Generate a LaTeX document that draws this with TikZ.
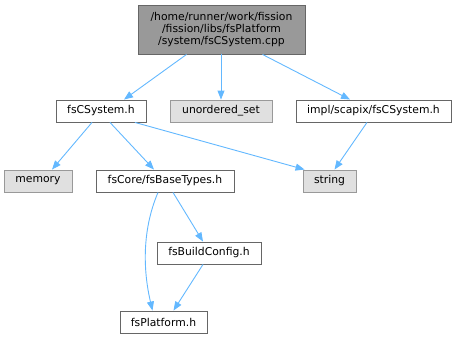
\documentclass[tikz,border=0pt]{standalone}
\usepackage{fontspec}
\setmainfont{DejaVu Sans}
\usetikzlibrary{arrows.meta,calc}
\definecolor{edgeblue}{HTML}{63B8FF}
\definecolor{boxgray}{HTML}{E0E0E0}
\definecolor{rootgray}{HTML}{999999}
\definecolor{bordark}{HTML}{666666}
\definecolor{borlight}{HTML}{999999}
\tikzset{
  filebox/.style={draw=bordark, fill=white, line width=0.9pt, minimum height=22pt, inner sep=0pt, font=\fontsize{10.8}{12.3}\selectfont},
  sysbox/.style={draw=borlight, fill=boxgray, line width=0.9pt, minimum height=22pt, inner sep=0pt, font=\fontsize{10.8}{12.3}\selectfont},
  rootbox/.style={draw=bordark, fill=rootgray, line width=0.9pt, minimum height=49pt, inner sep=0pt, align=center, font=\fontsize{10.8}{12.3}\selectfont},
  dep/.style={draw=edgeblue, line width=0.9pt, -{Triangle[length=9pt,width=7pt]}}
}
\begin{document}
\begin{tikzpicture}[x=1pt,y=-1pt]
\useasboundingbox (0,0) rectangle (456,340);
\node[rootbox, minimum width=167pt] (root) at (221.5,29.5) {/home/runner/work/fission\\/fission/libs/fsPlatform\\/system/fsCSystem.cpp};
\node[filebox, minimum width=90pt] (cs) at (101,111) {fsCSystem.h};
\node[sysbox, minimum width=102pt] (us) at (221,111) {unordered\_set};
\node[filebox, minimum width=155pt] (impl) at (373.5,111) {impl/scapix/fsCSystem.h};
\node[sysbox, minimum width=68pt] (mem) at (38,181) {memory};
\node[filebox, minimum width=138pt] (bt) at (165,181) {fsCore/fsBaseTypes.h};
\node[sysbox, minimum width=53pt] (str) at (329.5,181) {string};
\node[filebox, minimum width=104pt] (bc) at (209,253) {fsBuildConfig.h};
\node[filebox, minimum width=87pt] (pf) at (163.5,322) {fsPlatform.h};

\draw[dep] ([xshift=-35pt]root.south) -- ([xshift=23pt]cs.north);
\draw[dep] ([xshift=-0.5pt]root.south) -- (us.north);
\draw[dep] ([xshift=41pt]root.south) -- ([xshift=-23.5pt]impl.north);
\draw[dep] ([xshift=-9pt]cs.south) -- ([xshift=14pt]mem.north);
\draw[dep] ([xshift=9pt]cs.south) -- ([xshift=-11pt]bt.north);
\draw[dep] ([xshift=34pt]cs.south) -- ([xshift=2pt]str.north west);
\draw[dep] ([xshift=-6.5pt]impl.south) -- ([xshift=5pt]str.north);
\draw[dep] ([xshift=8pt]bt.south) -- ([xshift=-6pt]bc.north);
\draw[dep] ([xshift=-7pt]bt.south) .. controls (142,230) and (143,270) .. ([xshift=-11pt]pf.north);
\draw[dep] ([xshift=-6pt]bc.south) -- ([xshift=10pt]pf.north);
\end{tikzpicture}
\end{document}
